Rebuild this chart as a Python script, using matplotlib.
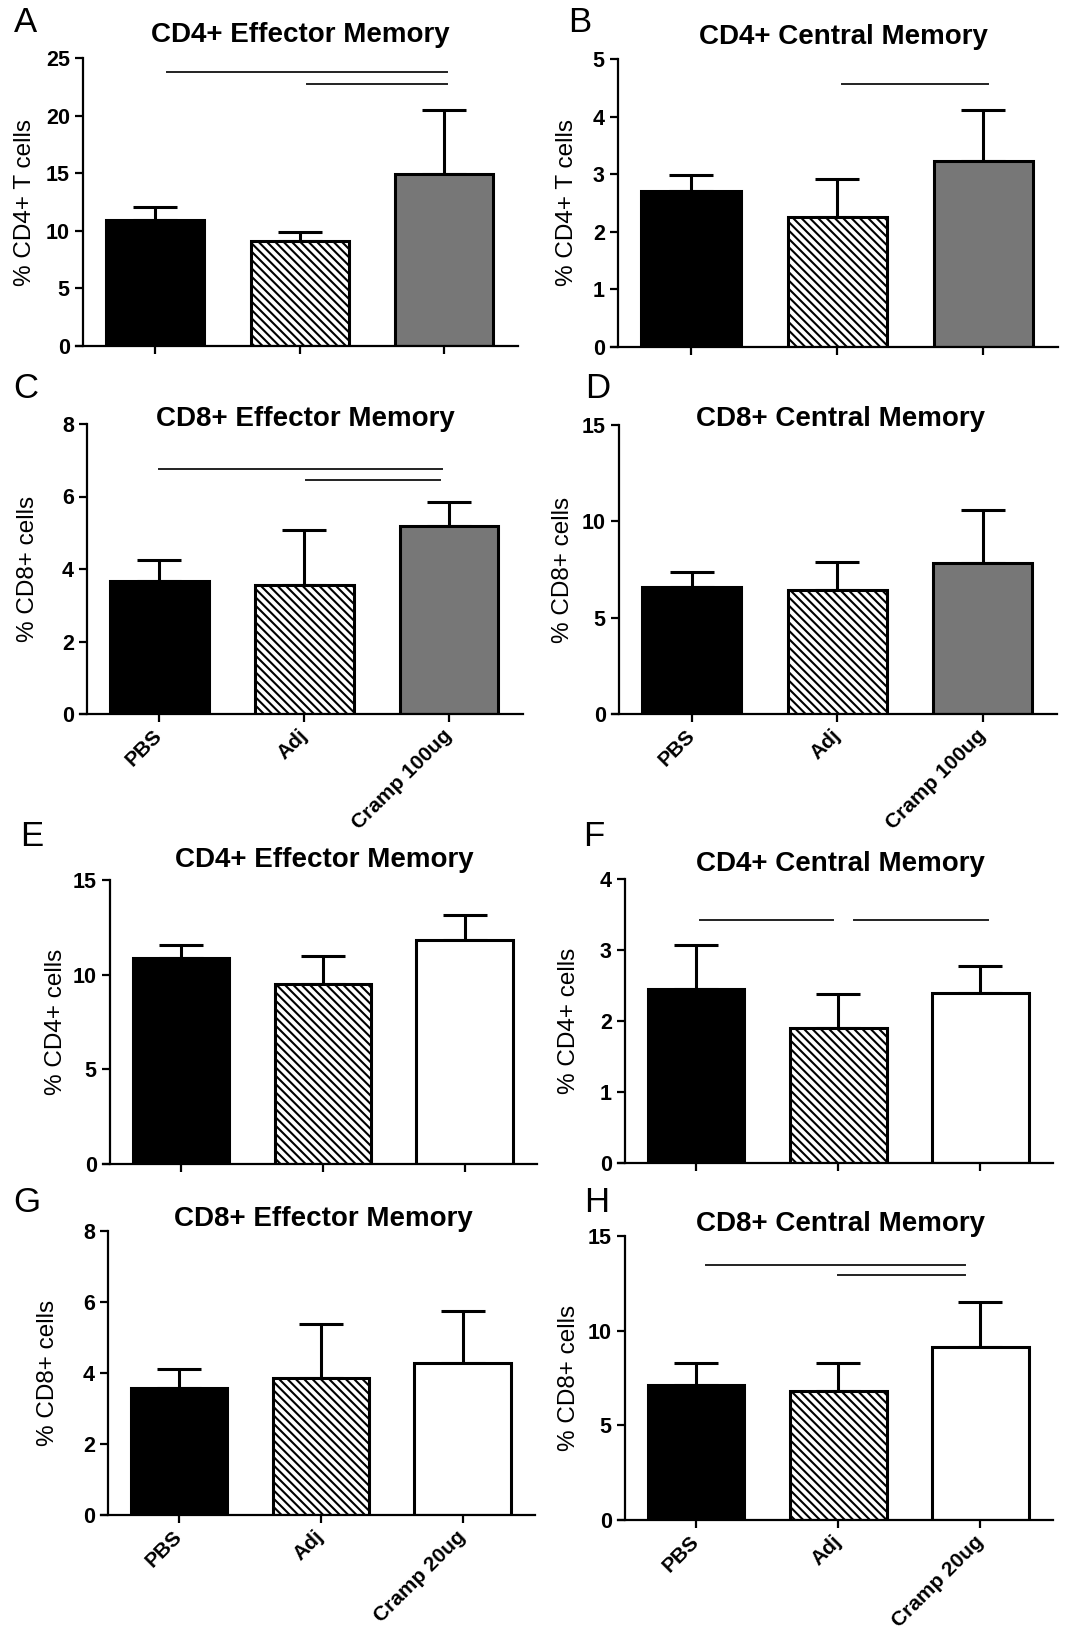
import numpy as np
import matplotlib.pyplot as plt

plt.rcParams['font.family'] = ['Liberation Sans', 'DejaVu Sans']
plt.rcParams['font.weight'] = 'bold'
plt.rcParams['hatch.linewidth'] = 1.5

# gruppi
groups_100 = ['PBS', 'Adj', 'Cramp 100ug']
groups_20 = ['PBS', 'Adj', 'Cramp 20ug']

# A - CD4+ Effector Memory (100ug)
a_mean = [10.9, 9.1, 14.9]
a_sem = [1.2, 0.8, 5.6]
a_sig = [(0.08, 2.02, 23.8), (1.05, 2.02, 22.7)]

# B - CD4+ Central Memory (100ug)
b_mean = [2.70, 2.26, 3.23]
b_sem = [0.29, 0.65, 0.88]
b_sig = [(1.03, 2.03, 4.56)]

# C - CD8+ Effector Memory (100ug)
c_mean = [3.68, 3.56, 5.20]
c_sem = [0.56, 1.52, 0.64]
c_sig = [(0.0, 1.95, 6.77), (1.01, 1.94, 6.45)]

# D - CD8+ Central Memory (100ug)
d_mean = [6.61, 6.44, 7.85]
d_sem = [0.78, 1.43, 2.74]
d_sig = []

# E - CD4+ Effector Memory (20ug)
e_mean = [10.89, 9.53, 11.82]
e_sem = [0.69, 1.45, 1.33]
e_sig = []

# F - CD4+ Central Memory (20ug)
f_mean = [2.45, 1.90, 2.40]
f_sem = [0.62, 0.48, 0.38]
f_sig = [(0.03, 0.96, 3.42), (1.11, 2.05, 3.42)]

# G - CD8+ Effector Memory (20ug)
g_mean = [3.59, 3.87, 4.29]
g_sem = [0.52, 1.52, 1.46]
g_sig = []

# H - CD8+ Central Memory (20ug)
h_mean = [7.15, 6.79, 9.14]
h_sem = [1.14, 1.50, 2.36]
h_sig = [(0.07, 1.89, 13.46), (1.0, 1.89, 12.94)]

fills_100 = ['black', 'white', '#777777']
fills_20 = ['black', 'white', 'white']
hatches = [None, '\\\\\\\\', None]

W, H = 1068, 1629
fig = plt.figure(figsize=(W / 100, H / 100), dpi=100)

# letter, title, ylabel, mean, sem, sig, groups, fills, ymax, ystep, show xlabels,
# axes box in pixel (y axis x, right, top, bottom), title centre, letter centre, ylabel x
panels = [
    ('A', 'CD4+ Effector Memory', '% CD4+ T cells', a_mean, a_sem, a_sig, groups_100, fills_100, 25, 5, False,
     (83, 518, 58, 346), (300, 35), (26, 22), 25),
    ('B', 'CD4+ Central Memory', '% CD4+ T cells', b_mean, b_sem, b_sig, groups_100, fills_100, 5, 1, False,
     (618, 1058, 59, 347), (843, 37), (580, 22), 567),
    ('C', 'CD8+ Effector Memory', '% CD8+ cells', c_mean, c_sem, c_sig, groups_100, fills_100, 8, 2, True,
     (87, 523, 424, 714), (305, 419), (26, 388), 28),
    ('D', 'CD8+ Central Memory', '% CD8+ cells', d_mean, d_sem, d_sig, groups_100, fills_100, 15, 5, True,
     (619, 1057, 425, 714), (840, 419), (598, 388), 563),
    ('E', 'CD4+ Effector Memory', '% CD4+ cells', e_mean, e_sem, e_sig, groups_20, fills_20, 15, 5, False,
     (110, 537, 880, 1164), (324, 860), (32, 837), 56),
    ('F', 'CD4+ Central Memory', '% CD4+ cells', f_mean, f_sem, f_sig, groups_20, fills_20, 4, 1, False,
     (625, 1053, 879, 1163), (840, 864), (594, 836), 569),
    ('G', 'CD8+ Effector Memory', '% CD8+ cells', g_mean, g_sem, g_sig, groups_20, fills_20, 8, 2, True,
     (108, 535, 1231, 1515), (323, 1219), (27, 1203), 48),
    ('H', 'CD8+ Central Memory', '% CD8+ cells', h_mean, h_sem, h_sig, groups_20, fills_20, 15, 5, True,
     (625, 1053, 1236, 1520), (840, 1224), (597, 1203), 569),
]

ext = 7  # la linea x parte un po' a sinistra dell'asse y
x_right = 2.51

for (letter, title, ylab, mean, sem, sig, groups, fills, ymax, ystep, xlab,
     box, tpos, lpos, ylx) in panels:
    yx, right, top, bottom = box
    left = yx - ext
    ax = fig.add_axes([left / W, 1 - bottom / H, (right - left) / W, (bottom - top) / H])
    u = (right - yx) / (x_right + 0.5)
    x = np.arange(len(groups))

    ax.errorbar(x, mean, yerr=[np.zeros(len(mean)), sem], fmt='none', ecolor='black',
                 elinewidth=2.2, capsize=16, capthick=2.2, zorder=1)
    for xi, m, fc, ht in zip(x, mean, fills, hatches):
        ax.bar(xi, m, width=0.68, color=fc, edgecolor='black', linewidth=2.2,
               hatch=ht, zorder=2)
    for x1, x2, ys in sig:
        ax.plot([x1, x2], [ys, ys], color='#222222', lw=1.4, clip_on=False, zorder=3)

    ax.set_xlim(-0.5 - ext / u, x_right)
    ax.set_ylim(0, ymax)
    ax.set_yticks(np.arange(0, ymax + 0.01, ystep))
    ax.set_xticks(x)
    ax.spines['top'].set_visible(False)
    ax.spines['right'].set_visible(False)
    ax.spines['left'].set_position(('data', -0.5))
    for s in ('left', 'bottom'):
        ax.spines[s].set_linewidth(1.6)
    ax.tick_params(axis='both', direction='out', length=5.5, width=1.6, labelsize=15.5, pad=4)
    if xlab:
        ax.set_xticklabels(groups, rotation=45, ha='right', va='center', rotation_mode='anchor',
                           fontsize=15)
        ax.tick_params(axis='x', pad=8)
    else:
        ax.set_xticklabels([])

    fig.text(tpos[0] / W, 1 - tpos[1] / H, title, ha='center', va='center', fontsize=20)
    fig.text(lpos[0] / W, 1 - lpos[1] / H, letter, ha='center', va='center',
             fontsize=25, fontweight='normal')
    fig.text(ylx / W, 1 - (top + bottom) / 2 / H, ylab, rotation=90, ha='center', va='center',
             fontsize=17.5, fontweight='normal')

fig.savefig('out.png', dpi=100)
